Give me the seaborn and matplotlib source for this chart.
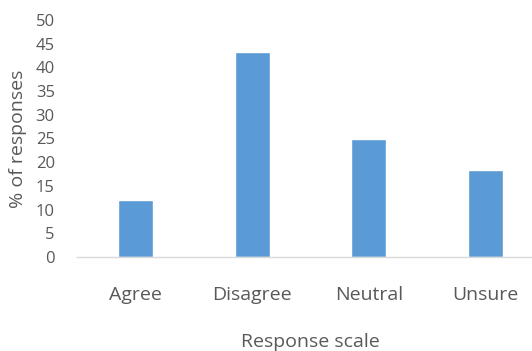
#!/usr/bin/env python3
# -*- coding: utf-8 -*-

import pandas as pd
import matplotlib
matplotlib.use("Agg")
import matplotlib.pyplot as plt
import seaborn as sns

# ================= 数据 =================
categories = ["Agree", "Disagree", "Neutral", "Unsure"]
percent = [12.0, 43.2, 24.8, 18.4]
y_ticks = [0, 5, 10, 15, 20, 25, 30, 35, 40, 45, 50]

BAR_COLOR = "#5B9BD5"
TEXT_COLOR = "#595959"

sns.set_style("white")
plt.rcParams['font.family'] = ['Open Sans', 'DejaVu Sans']

df = pd.DataFrame({"Response": categories, "Percent": percent})

W, H = 532, 351
fig = plt.figure(figsize=(W / 100, H / 100), dpi=100)
# x 轴右侧在原图中被裁掉，所以坐标区超出画布
ax = fig.add_axes([77 / W, (H - 257) / H, (544 - 77) / W, 237 / H])

sns.barplot(data=df, x="Response", y="Percent", color=BAR_COLOR,
            width=0.3, saturation=1, ax=ax)

ax.set_xlim(-0.5, 3.5)
ax.set_ylim(0, 50)
ax.set_yticks(y_ticks)
ax.set_yticklabels([str(t) for t in y_ticks])

for s in ["top", "right", "left"]:
    ax.spines[s].set_visible(False)
ax.spines["bottom"].set_color("#D9D9D9")
ax.spines["bottom"].set_linewidth(1.0)

ax.tick_params(axis="both", length=0, colors=TEXT_COLOR)
ax.tick_params(axis="x", pad=21, labelsize=14)
ax.tick_params(axis="y", pad=16, labelsize=12)

ax.set_xlabel("Response scale", color=TEXT_COLOR, fontsize=14, labelpad=21)
ax.set_ylabel("% of responses", color=TEXT_COLOR, fontsize=14, labelpad=6)

fig.savefig("out.png", dpi=100)
plt.close(fig)
